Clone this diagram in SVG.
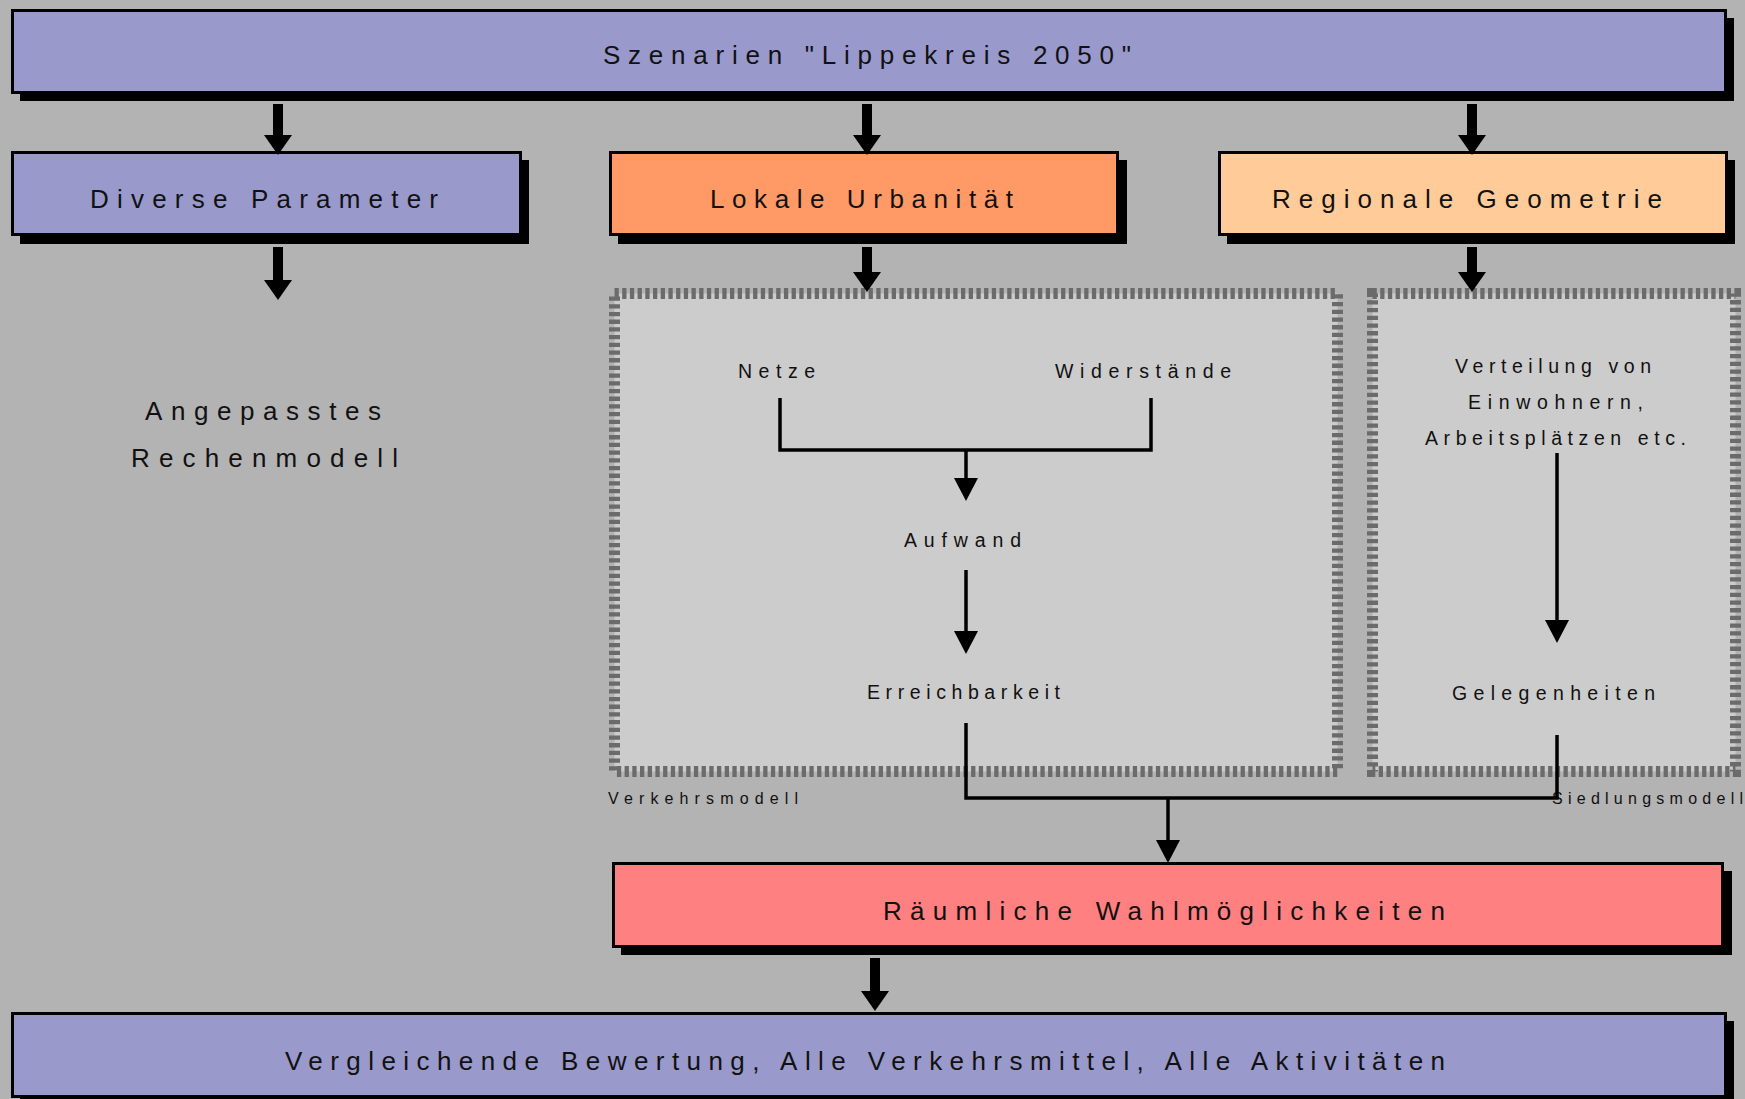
<svg xmlns="http://www.w3.org/2000/svg" width="1745" height="1099" viewBox="0 0 1745 1099">
<defs>
<style>
.bg{fill:#b3b3b3}
.shadow{fill:#000}
.box{stroke:#000;stroke-width:3}
.purple{fill:#9999cc}
.orange{fill:#ff9966}
.peach{fill:#ffcc99}
.red{fill:#ff8080}
.model{fill:#cccccc;stroke:#6b6b6b;stroke-width:11;stroke-dasharray:4.3 3.4}
.t{font-family:"Liberation Sans",Arial,Helvetica,sans-serif;fill:#111}
.big{font-size:26px}
.mid{font-size:19.5px}
.small{font-size:16px}
.thick{fill:none;stroke:#000;stroke-width:10}
.thin{fill:none;stroke:#000;stroke-width:3.5}
</style>
<marker id="bigHead" markerUnits="userSpaceOnUse" viewBox="0 0 20 28" refX="0" refY="14" markerWidth="20" markerHeight="28" orient="auto">
<path d="M0,0 L20,14 L0,28 z" fill="#000"/>
</marker>
<marker id="smallHead" markerUnits="userSpaceOnUse" viewBox="0 0 23 24" refX="0" refY="12" markerWidth="23" markerHeight="24" orient="auto">
<path d="M0,0 L23,12 L0,24 z" fill="#000"/>
</marker>
</defs>
<rect class="bg" x="0" y="0" width="1745" height="1099"/>

<g id="node-szenarien">
<rect class="shadow" x="20" y="18" width="1714" height="83"/>
<rect class="box purple" x="12.5" y="10.5" width="1713" height="82"/>
<text class="t big" x="603" y="64" textLength="528" lengthAdjust="spacing">Szenarien "Lippekreis 2050"</text>
</g>

<g id="node-diverse">
<rect class="shadow" x="20" y="160" width="509" height="84"/>
<rect class="box purple" x="12.5" y="152.5" width="508" height="82"/>
<text class="t big" x="90" y="208" textLength="348" lengthAdjust="spacing">Diverse Parameter</text>
</g>

<g id="node-lokale">
<rect class="shadow" x="618" y="160" width="509" height="84"/>
<rect class="box orange" x="610.5" y="152.5" width="507" height="82"/>
<text class="t big" x="710" y="208" textLength="303" lengthAdjust="spacing">Lokale Urbanität</text>
</g>

<g id="node-regionale">
<rect class="shadow" x="1227" y="160" width="508" height="84"/>
<rect class="box peach" x="1219.5" y="152.5" width="507" height="82"/>
<text class="t big" x="1272" y="208" textLength="390" lengthAdjust="spacing">Regionale Geometrie</text>
</g>

<g id="node-rechenmodell">
<text class="t big" x="145" y="420" textLength="236" lengthAdjust="spacing">Angepasstes</text>
<text class="t big" x="131" y="467" textLength="267" lengthAdjust="spacing">Rechenmodell</text>
</g>

<g id="node-verkehrsmodell">
<rect class="model" x="614.5" y="293.5" width="723" height="478"/>
<text class="t small" x="608" y="804" textLength="190" lengthAdjust="spacing">Verkehrsmodell</text>
</g>

<g id="node-siedlungsmodell">
<rect class="model" x="1372.5" y="293.5" width="363" height="478"/>
<text class="t small" x="1552" y="804" textLength="191" lengthAdjust="spacing">Siedlungsmodell</text>
</g>

<g id="node-netze">
<text class="t mid" x="738" y="378" textLength="77" lengthAdjust="spacing">Netze</text>
</g>
<g id="node-widerstaende">
<text class="t mid" x="1055" y="378" textLength="176" lengthAdjust="spacing">Widerstände</text>
</g>
<g id="node-aufwand">
<text class="t mid" x="904" y="547" textLength="117" lengthAdjust="spacing">Aufwand</text>
</g>
<g id="node-erreichbarkeit">
<text class="t mid" x="867" y="699" textLength="193" lengthAdjust="spacing">Erreichbarkeit</text>
</g>
<g id="node-verteilung">
<text class="t mid" x="1455" y="373" textLength="196" lengthAdjust="spacing">Verteilung von</text>
<text class="t mid" x="1468" y="409" textLength="175" lengthAdjust="spacing">Einwohnern,</text>
<text class="t mid" x="1425" y="445" textLength="261" lengthAdjust="spacing">Arbeitsplätzen etc.</text>
</g>
<g id="node-gelegenheiten">
<text class="t mid" x="1452" y="700" textLength="203" lengthAdjust="spacing">Gelegenheiten</text>
</g>

<g id="node-raeumliche">
<rect class="shadow" x="621" y="871" width="1111" height="84"/>
<rect class="box red" x="613.5" y="863.5" width="1109" height="83"/>
<text class="t big" x="883" y="920" textLength="562" lengthAdjust="spacing">Räumliche Wahlmöglichkeiten</text>
</g>

<g id="node-vergleichende">
<rect class="shadow" x="20" y="1021" width="1714" height="84"/>
<rect class="box purple" x="12.5" y="1013.5" width="1713" height="83"/>
<text class="t big" x="285" y="1070" textLength="1160" lengthAdjust="spacing">Vergleichende Bewertung, Alle Verkehrsmittel, Alle Aktivitäten</text>
</g>

<g id="connectors">
<path class="thick" d="M278 104 V135" marker-end="url(#bigHead)"/>
<path class="thick" d="M867 104 V135" marker-end="url(#bigHead)"/>
<path class="thick" d="M1472 104 V135" marker-end="url(#bigHead)"/>
<path class="thick" d="M278 247 V280" marker-end="url(#bigHead)"/>
<path class="thick" d="M867 247 V272" marker-end="url(#bigHead)"/>
<path class="thick" d="M1472 247 V272" marker-end="url(#bigHead)"/>
<path class="thick" d="M875 958 V991" marker-end="url(#bigHead)"/>
<path class="thin" d="M780 398 V450 H1151 V398"/>
<path class="thin" d="M966 450 V478" marker-end="url(#smallHead)"/>
<path class="thin" d="M966 570 V631" marker-end="url(#smallHead)"/>
<path class="thin" d="M1557 453 V620" marker-end="url(#smallHead)"/>
<path class="thin" d="M966 723 V798 H1557 V735"/>
<path class="thin" d="M1168 798 V840" marker-end="url(#smallHead)"/>
</g>
</svg>
